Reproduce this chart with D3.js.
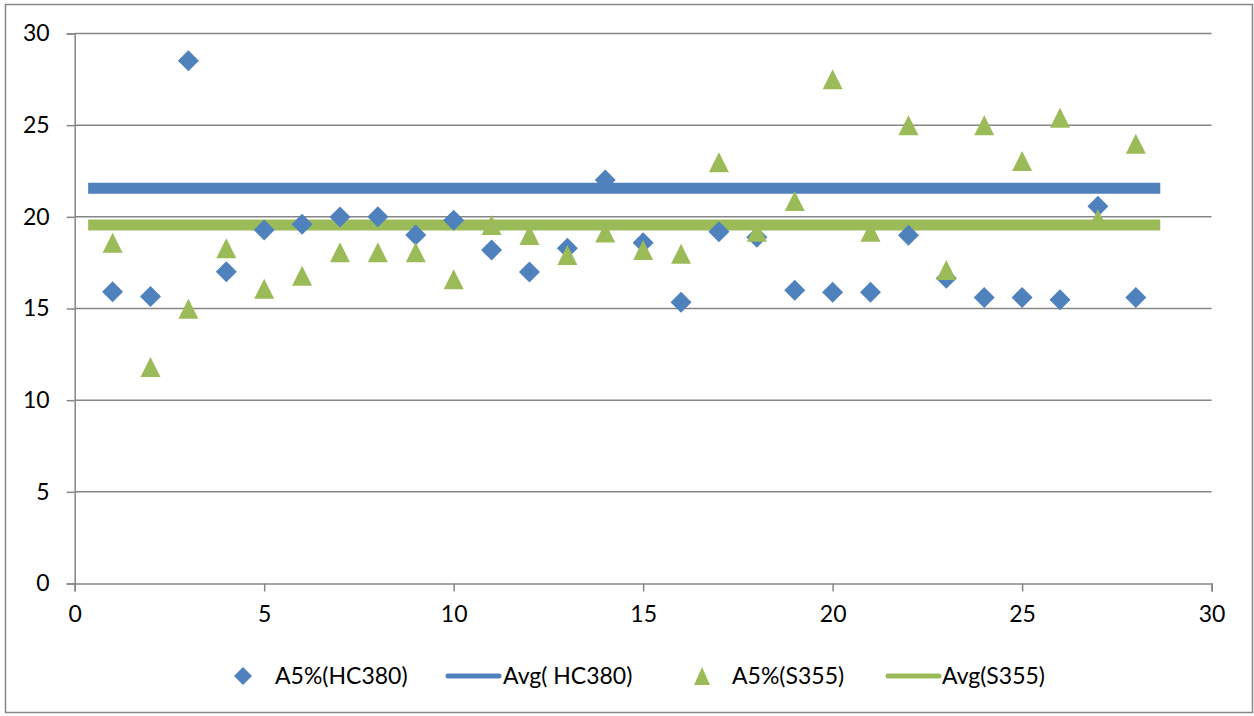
<!doctype html>
<html lang="en">
  <head>
    <meta charset="utf-8">
    <title>A5% scatter</title>
    <script src="https://d3js.org/d3.v7.min.js"></script>
    <style>
      body { margin: 0; background: white; }
      text { font-family: Lato, "Open Sans", sans-serif; fill: #000; }
    </style>
  </head>
  <body>
    <svg width="1254" height="716"></svg>
    <script>
      // sample number 1..28
      var samples = [1, 2, 3, 4, 5, 6, 7, 8, 9, 10, 11, 12, 13, 14, 15, 16, 17, 18, 19, 20, 21, 22, 23, 24, 25, 26, 27, 28];
      var hc380 = [15.92, 15.65, 28.52, 17.01, 19.28, 19.6, 19.99, 20.0, 19.01, 19.81, 18.19, 16.99, 18.29, 22.01,
                   18.59, 15.34, 19.19, 18.89, 16.0, 15.89, 15.89, 19.0, 16.65, 15.6, 15.6, 15.48, 20.58, 15.6];
      var s355 = [18.58, 11.81, 14.98, 18.29, 16.08, 16.78, 18.07, 18.07, 18.07, 16.6, 19.56, 19.01, 17.92, 19.14,
                  18.19, 17.98, 22.98, 19.19, 20.87, 27.5, 19.19, 25.0, 17.1, 25.0, 23.05, 25.41, 19.87, 23.98];
      var avgX = [0.5, 28.5];
      var avgHC380 = [21.56, 21.56];
      var avgS355 = [19.56, 19.56];
      var xTicks = [0, 5, 10, 15, 20, 25, 30];
      var yTicks = [0, 5, 10, 15, 20, 25, 30];
      var legendNames = ['A5%(HC380)', 'Avg( HC380)', 'A5%(S355)', 'Avg(S355)'];

      var blue = '#4f81bd', green = '#9bbb59', grey = '#868686';

      var svg = d3.select('svg');

      // outer chart border
      svg.append('rect')
        .attr('x', 5.5).attr('y', 4.5)
        .attr('width', 1247).attr('height', 708)
        .attr('fill', 'none').attr('stroke', grey).attr('stroke-width', 1.5);

      var x = d3.scaleLinear().domain([0, 30]).range([74.7, 1211.6]);
      var y = d3.scaleLinear().domain([0, 30]).range([583.5, 33.5]);

      // gridlines
      svg.append('g').selectAll('line').data(yTicks.filter(function(d){ return d > 0; }))
        .enter().append('line')
        .attr('x1', x(0)).attr('x2', x(30))
        .attr('y1', function(d){ return y(d); }).attr('y2', function(d){ return y(d); })
        .attr('stroke', grey).attr('stroke-width', 1.5);

      var xAxis = svg.append('g')
        .attr('transform', 'translate(0,' + y(0) + ')')
        .call(d3.axisBottom(x).tickValues(xTicks).tickSize(8).tickPadding(14));
      var yAxis = svg.append('g')
        .attr('transform', 'translate(' + x(0) + ',0)')
        .call(d3.axisLeft(y).tickValues(yTicks).tickSize(8).tickPadding(17));

      [xAxis, yAxis].forEach(function(a){
        a.select('.domain').attr('stroke', grey).attr('stroke-width', 1.5);
        a.selectAll('.tick line').attr('stroke', grey).attr('stroke-width', 1.5);
        a.selectAll('.tick text').style('font-size', '23px').attr('fill', '#000');
      });

      // average lines
      var line = d3.line()
        .x(function(d){ return x(d[0]); })
        .y(function(d){ return y(d[1]); });

      [[avgHC380, blue], [avgS355, green]].forEach(function(s){
        svg.append('path')
          .attr('d', line(d3.zip(avgX, s[0])))
          .attr('fill', 'none')
          .attr('stroke', s[1])
          .attr('stroke-width', 11)
          .attr('stroke-linecap', 'square');
      });

      var diamond = 'M0,-10.5L10.5,0L0,10.5L-10.5,0Z';
      var triangle = 'M0,-10L10,10L-10,10Z';

      svg.append('g').selectAll('path').data(d3.zip(samples, hc380))
        .enter().append('path')
        .attr('d', diamond)
        .attr('fill', blue)
        .attr('transform', function(d){ return 'translate(' + x(d[0]) + ',' + y(d[1]) + ')'; });

      svg.append('g').selectAll('path').data(d3.zip(samples, s355))
        .enter().append('path')
        .attr('d', triangle)
        .attr('fill', green)
        .attr('transform', function(d){ return 'translate(' + x(d[0]) + ',' + y(d[1]) + ')'; });

      // legend
      var ly = 676;
      var legend = svg.append('g');
      legend.append('path').attr('d', 'M0,-9L9,0L0,9L-9,0Z').attr('fill', blue)
        .attr('transform', 'translate(243,' + ly + ')');
      legend.append('line').attr('x1', 448).attr('x2', 499).attr('y1', ly).attr('y2', ly)
        .attr('stroke', blue).attr('stroke-width', 5).attr('stroke-linecap', 'round');
      legend.append('path').attr('d', 'M0,-9L8,9L-8,9Z').attr('fill', green)
        .attr('transform', 'translate(702,' + ly + ')');
      legend.append('line').attr('x1', 888).attr('x2', 939).attr('y1', ly).attr('y2', ly)
        .attr('stroke', green).attr('stroke-width', 5).attr('stroke-linecap', 'round');

      var textX = [275, 503, 732, 942];
      legend.selectAll('text').data(legendNames)
        .enter().append('text')
        .attr('x', function(d, i){ return textX[i]; })
        .attr('y', ly)
        .attr('dy', '0.35em')
        .style('font-size', '23px')
        .text(function(d){ return d; });
    </script>
  </body>
</html>
